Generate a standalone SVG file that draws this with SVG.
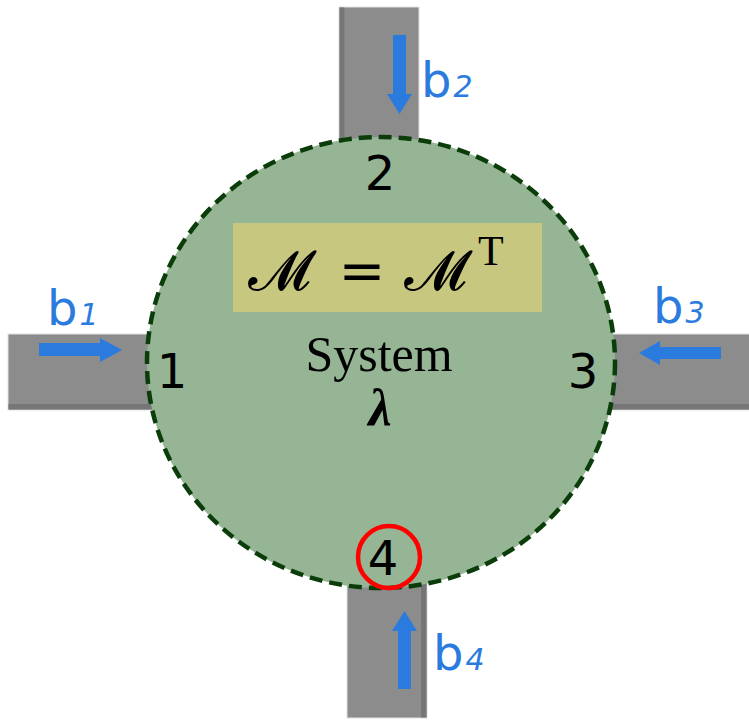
<svg xmlns="http://www.w3.org/2000/svg" width="749" height="720" viewBox="0 0 749 720">
<style>
.wg{fill:#8c8c8c;stroke:#e2e2e2;stroke-width:1}
.wgd{fill:#767676}
.arr{fill:#2b7bde}
.lbl{font-family:"DejaVu Sans",sans-serif;font-size:48px;fill:#2b7bde}
.sub{font-family:"DejaVu Sans",sans-serif;font-size:30px;font-style:italic;fill:#2b7bde}
.port{font-family:"DejaVu Sans",sans-serif;font-size:48px;fill:#000;text-anchor:middle}
.scr{font-family:"DejaVu Serif","DejaVu Sans",serif;font-size:56px;text-anchor:middle}
</style>
<rect width="749" height="720" fill="#ffffff"/>
<g id="waveguides">
  <g id="wg2"><rect class="wg" x="339" y="7" width="80" height="140"/><rect class="wgd" x="339.5" y="7.5" width="5" height="139"/></g>
  <g id="wg1"><rect class="wg" x="8" y="334" width="150" height="76"/><rect class="wgd" x="8.5" y="404" width="149" height="5.5"/></g>
  <g id="wg3"><rect class="wg" x="606" y="334" width="150" height="76"/><rect class="wgd" x="606" y="404" width="150" height="5.5"/></g>
  <g id="wg4"><rect class="wg" x="347" y="580" width="80" height="138"/><rect class="wgd" x="421" y="580" width="5.5" height="137.5"/></g>
</g>
<g id="system">
  <ellipse cx="381" cy="362.5" rx="234" ry="225.5" fill="#95b595" stroke="#0b3d0b" stroke-width="4.5" stroke-dasharray="13 7"/>
  <rect x="233" y="223" width="309" height="89" fill="#c8c77f"/>
  <text class="scr" x="279" y="290">𝓜</text>
  <text x="362" y="290" font-family="DejaVu Sans,sans-serif" font-size="56" text-anchor="middle">=</text>
  <text class="scr" x="435" y="290">𝓜</text>
  <text x="478" y="265" font-family="Liberation Serif,serif" font-size="42">T</text>
  <text x="379" y="371" font-family="Liberation Serif,serif" font-size="50" text-anchor="middle">System</text>
  <text x="380" y="425" font-family="Liberation Serif,serif" font-size="52" font-weight="bold" font-style="italic" text-anchor="middle">λ</text>
</g>
<g id="ports">
  <g id="port1"><text class="port" x="172" y="388">1</text></g>
  <g id="port2"><text class="port" x="380" y="190">2</text></g>
  <g id="port3"><text class="port" x="583" y="388">3</text></g>
  <g id="port4"><text class="port" x="383" y="575">4</text><circle cx="389" cy="557" r="31" fill="none" stroke="#ff0000" stroke-width="4.5"/></g>
</g>
<g id="connectors">
  <polygon class="arr" points="393,35 406,35 406,94 412,94 399.5,114 387,94 393,94"/>
  <polygon class="arr" points="39,343 100,343 100,338 122,350 100,362 100,356 39,356"/>
  <polygon class="arr" points="721,347 660,347 660,341 639,353 660,365 660,359 721,359"/>
  <polygon class="arr" points="398,689 398,631 392,631 404.5,611 417,631 411,631 411,689"/>
</g>
<g id="labels">
  <text class="lbl" x="421" y="97">b<tspan class="sub" dx="2">2</tspan></text>
  <text class="lbl" x="47" y="325">b<tspan class="sub" dx="2">1</tspan></text>
  <text class="lbl" x="653" y="323">b<tspan class="sub" dx="2">3</tspan></text>
  <text class="lbl" x="433" y="670">b<tspan class="sub" dx="2">4</tspan></text>
</g>
</svg>
